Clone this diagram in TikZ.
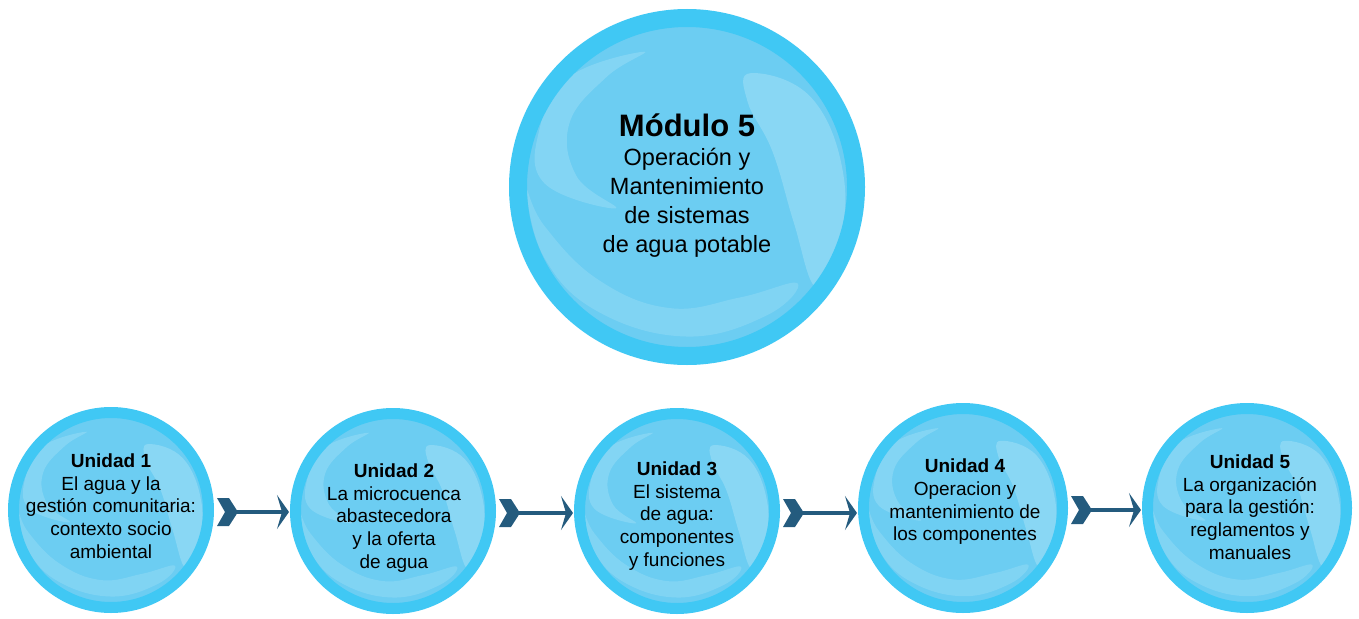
\documentclass[tikz,border=0pt]{standalone}
\usepackage{fontspec}
\setmainfont{Liberation Sans}
\usetikzlibrary{arrows.meta,calc}
\definecolor{ring}{RGB}{64,200,244}
\definecolor{inner}{RGB}{108,205,242}
\definecolor{conncol}{RGB}{36,91,126}
\tikzset{
  swirls/.style={path picture={
    \begin{scope}[shift={(path picture bounding box.center)},x=#1pt,y=#1pt]
      \fill[white,opacity=0.16] plot[smooth cycle,tension=0.7] coordinates {(-0.24,0.76) (-0.66,0.62) (-0.83,0.32) (-0.80,0.02) (-0.40,-0.12) (-0.62,0.06) (-0.66,0.36) (-0.45,0.62)};
      \fill[white,opacity=0.2] plot[smooth cycle,tension=0.7] coordinates {(0.36,0.64) (0.70,0.50) (0.88,0.06) (0.84,-0.38) (0.72,-0.56) (0.60,-0.20) (0.48,0.20) (0.34,0.48)};
      \fill[white,opacity=0.14] plot[smooth cycle,tension=0.7] coordinates {(-0.90,-0.02) (-0.80,-0.40) (-0.50,-0.70) (0.00,-0.84) (0.45,-0.72) (0.62,-0.54) (0.30,-0.62) (-0.10,-0.68) (-0.50,-0.52) (-0.80,-0.22)};
    \end{scope}}},
  bubble/.style n args={2}{circle,draw=ring,fill=inner,line width=#2pt,minimum size=2*#1pt-#2pt,inner sep=0pt,swirls=#1},
  bigtext/.style={align=center,font=\fontsize{23.5}{29}\selectfont,inner sep=0pt},
  unittext/.style={align=center,font=\fontsize{19}{22.7}\selectfont,inner sep=0pt},
  conn/.style={draw=conncol,line width=4.5pt,-{Stealth[length=12pt,width=34pt,inset=5pt]},shorten >=1pt,shorten <=20pt},
  chevron/.pic={\fill[conncol] (0,-14) -- (12,-14) -- (21,0) -- (12,14) -- (0,14) -- (8,0) -- cycle;}
}
\begin{document}
\begin{tikzpicture}[x=1pt,y=-1pt]
\useasboundingbox (0,0) rectangle (1359,618);
\node[bubble={178}{18}] (m) at (687,187) {};
\node[bigtext] (mt) at (687,186) {{\fontsize{31}{29}\selectfont\bfseries Módulo 5}\\Operación y\\Mantenimiento\\de sistemas\\de agua potable};

\node[bubble={103}{11}] (u1) at (111,510) {};
\node[bubble={103}{11}] (u2) at (393,511) {};
\node[bubble={103}{11}] (u3) at (677,511) {};
\node[bubble={105}{11}] (u4) at (963,508) {};
\node[bubble={105}{11}] (u5) at (1247,508) {};

\node[unittext] (t1) at (111,506) {\textbf{Unidad 1}\\El agua y la\\gestión comunitaria:\\contexto socio\\ambiental};
\node[unittext] (t2) at (394,518) {\textbf{Unidad 2}\\La microcuenca\\abastecedora\\y la oferta\\de agua};
\node[unittext] (t3) at (677,516) {\textbf{Unidad 3}\\El sistema\\de agua:\\componentes\\y funciones};
\node[unittext] (t4) at (965,502) {\textbf{Unidad 4}\\Operacion y\\mantenimiento de\\los componentes};
\node[unittext] (t5) at (1250,507) {\textbf{Unidad 5}\\La organización\\para la gestión:\\reglamentos y\\manuales};

\foreach \a/\b in {u1/u2,u2/u3,u3/u4,u4/u5}{
  \coordinate (s) at ($(\a.east)+(0,2)$);
  \pic at ($(s)+(3,0)$) {chevron};
  \draw[conn] (s) -- (s -| \b.west);
}
\end{tikzpicture}
\end{document}
